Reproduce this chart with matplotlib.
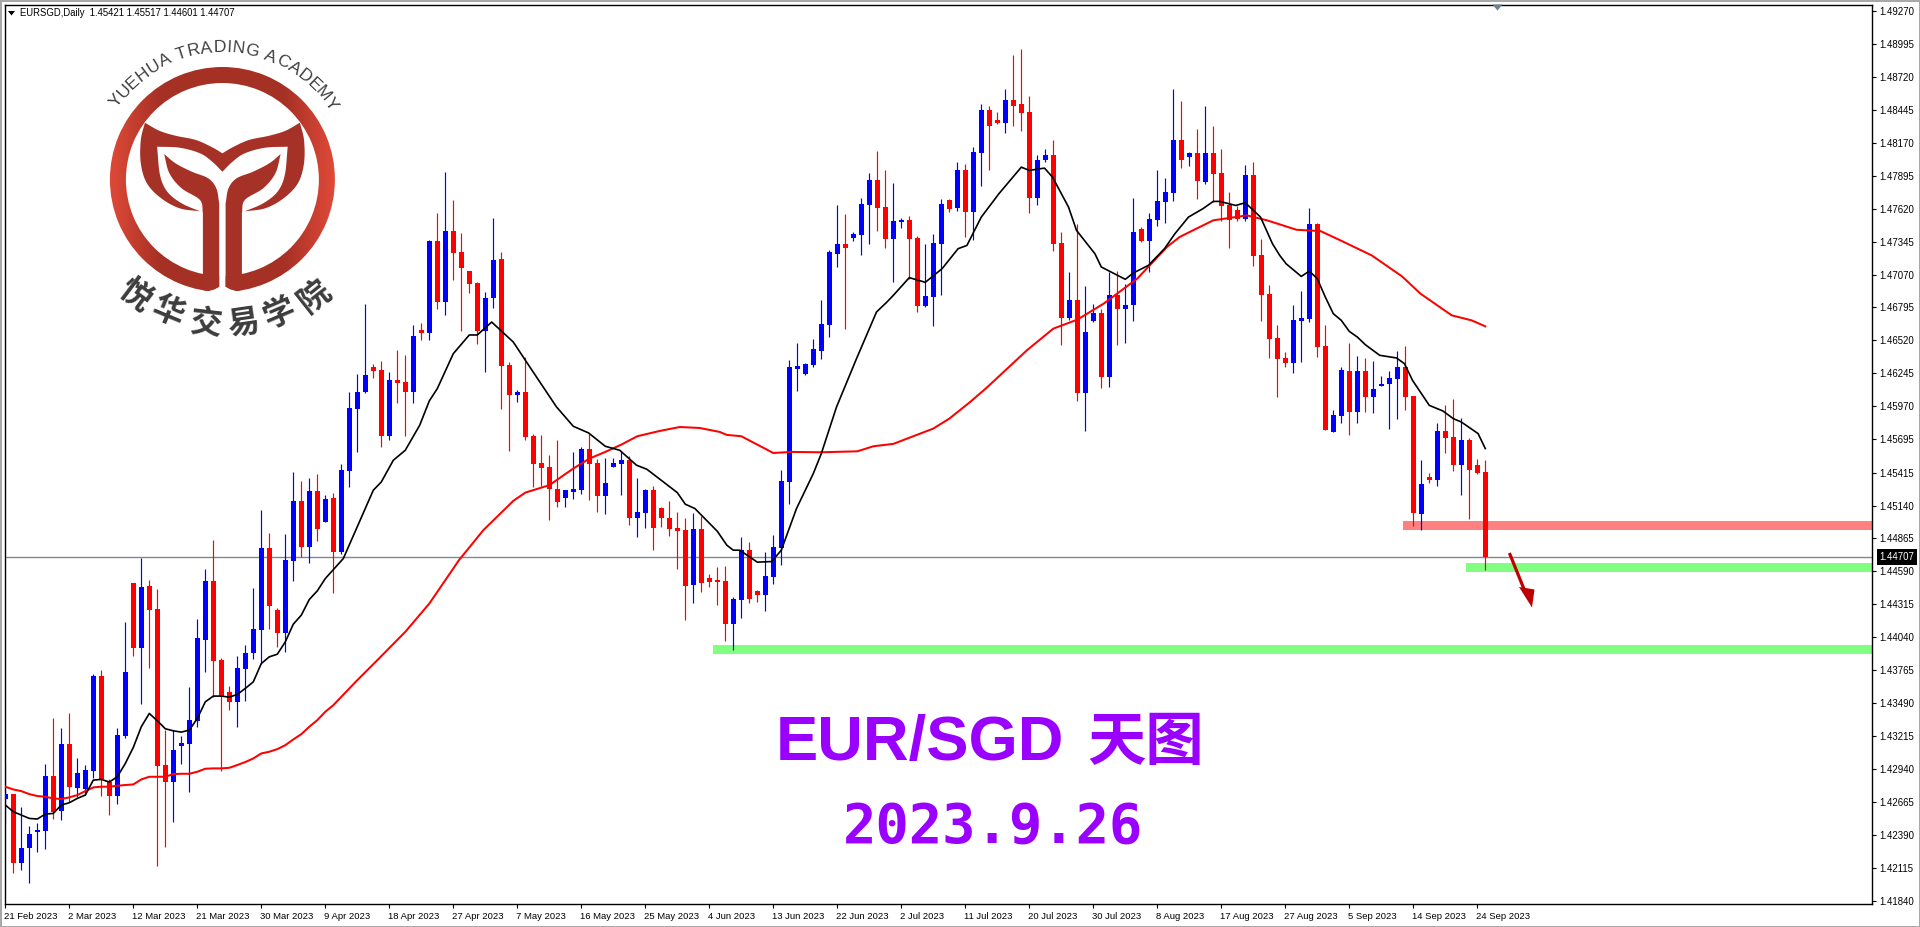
import numpy as np
import matplotlib
matplotlib.use("Agg")
import matplotlib.pyplot as plt
from matplotlib.patches import Polygon, Rectangle, Wedge
from matplotlib.transforms import ScaledTranslation

W, H = 1920, 927
UI = ['Liberation Sans', 'DejaVu Sans']
CJK = ['Noto Sans CJK SC', 'DejaVu Sans']

# ---- daily candles, in 1e-5 price units ----
opens = [
 142688,142729,142156,142281,142412,142423,142880,142590,143147,142782,
 142774,142924,143715,142830,142713,143214,144491,143951,144466,144274,
 142972,142830,143130,143147,143339,144015,144508,143848,143581,143498,
 143773,143907,144099,144783,144266,144074,144675,145176,144792,145259,
 145003,145201,144753,145429,145944,146086,146295,146270,145719,146186,
 146170,146086,146604,146579,147347,146837,147430,147255,147096,146996,
 146595,146871,147196,146311,146061,146086,145719,145493,145460,145276,
 145201,145251,145268,145610,145493,145218,145460,145485,145518,145034,
 145076,145268,145117,145034,144950,144934,144475,144942,144533,144516,
 144508,144149,144349,144767,144424,144391,144541,144783,145334,146278,
 146236,146311,146431,146646,147238,147322,147372,147397,147647,147856,
 147631,147364,147506,147522,147372,146804,146879,147322,147689,147622,
 147940,147589,148082,148441,148365,148332,148532,148491,148432,147706,
 148023,148065,147330,146704,146854,146081,146679,146746,146211,146896,
 146779,146813,147447,147347,147522,147673,147748,148190,148048,148082,
 147839,148082,147915,147647,147606,147531,147898,147230,146904,146537,
 146370,146328,146679,146695,147489,146470,145752,145886,146261,145919,
 146261,146044,146136,146153,146195,146295,146053,145067,145376,145351,
 145760,145710,145477,145685,145477,145421]
highs = [
 142985,142729,142618,142462,142490,142980,143369,143280,143403,143030,
 142969,143731,143765,142852,143280,144165,144491,144705,144516,144441,
 143264,143264,143214,143623,144190,144608,144850,143870,143631,143882,
 143973,144449,145101,144908,144282,144900,145418,145343,145368,145401,
 145226,145243,145485,146086,146242,146821,146320,146345,146253,146437,
 146395,146645,146662,147355,147581,147923,147689,147414,147096,147004,
 146921,147539,147255,146337,146103,146378,145735,145727,145560,145685,
 145268,145585,145627,145735,145527,145535,145535,145593,145552,145368,
 145276,145301,145126,145176,145084,145034,145076,145051,144566,144625,
 144633,144374,144875,144834,144433,144750,144892,145435,146353,146495,
 146328,146528,146854,147277,147647,147572,147422,147706,147915,148098,
 147940,147831,147539,147556,147389,147322,147405,147698,147700,148006,
 147990,148132,148491,148474,148424,148624,148900,148958,148558,148065,
 148115,148190,147422,147088,147494,146971,146821,146779,147088,147096,
 146993,147706,147464,147581,147940,147873,148624,148516,148090,148290,
 148474,148315,148115,147756,147639,147981,148006,147364,146980,146646,
 146420,146812,146929,147622,147500,146645,145936,146295,146495,146387,
 146370,146345,146220,146261,146428,146470,146053,145518,145410,145827,
 145977,146028,145869,145702,145527,145517]
lows = [
 142484,142073,142095,141989,142248,142273,142524,142512,142665,142707,
 142721,142860,142713,142557,142646,143197,143884,143481,143781,142128,
 142290,142496,142980,142746,143292,143748,143542,142924,143431,143292,
 143506,143857,143820,144107,143957,143915,144508,144708,144658,144842,
 145000,144410,144739,145296,145585,146078,146203,145630,145685,145994,
 145719,145994,146520,146520,146779,146729,147021,146595,146913,146487,
 146253,146787,145944,145593,146003,145685,145293,145301,145017,145126,
 145126,145193,145234,145184,145084,145067,145460,145226,144976,144875,
 144951,144767,144959,144884,144608,144182,144324,144416,144458,144308,
 144007,143932,144199,144324,144333,144257,144483,144642,145151,146094,
 146228,146295,146364,146548,147133,146612,147347,147230,147322,147430,
 147288,147005,147455,147035,146754,146796,146637,146896,147589,147600,
 147380,147355,147806,147940,148324,148249,148315,148265,147581,147647,
 148006,147263,146479,146687,146011,145761,146670,146120,146128,146479,
 146495,146679,147339,147088,147472,147497,147681,147956,147973,147698,
 147823,147673,147514,147288,147514,147514,147138,146679,146370,146044,
 146295,146245,146336,146671,146378,145769,145752,145827,145727,145827,
 145919,145911,146136,145777,145861,145936,144967,144934,145326,145301,
 145577,145426,145226,145026,145401,144601]
closes = [
 142729,142156,142276,142395,142429,142880,142582,143147,142791,142902,
 142930,143715,142852,142713,143222,143748,143951,144458,144266,142966,
 142830,143097,143155,143347,144032,144508,143840,143548,143498,143781,
 143907,144107,144783,144299,144074,144683,145176,144792,145259,144942,
 145193,144753,145435,145952,146086,146228,146261,145719,146186,146161,
 146086,146554,146579,147347,146837,147430,147247,147121,146988,146595,
 146871,147188,146303,146061,146086,145710,145485,145451,145276,145168,
 145268,145276,145610,145485,145218,145326,145493,145518,145034,145084,
 145268,144950,145034,144942,144925,144466,144942,144491,144500,144500,
 144149,144358,144767,144358,144391,144550,144792,145343,146295,146303,
 146320,146445,146654,147255,147322,147288,147405,147656,147856,147622,
 147364,147514,147522,147364,146804,146888,147330,147656,147614,147940,
 147589,148090,148441,148315,148332,148532,148482,148416,147706,148023,
 148065,147322,146704,146854,146081,146587,146746,146211,146896,146779,
 146813,147422,147347,147531,147681,147756,148190,148023,148082,147848,
 148082,147906,147639,147522,147531,147898,147222,146896,146529,146362,
 146328,146687,146704,147489,146462,145769,145894,146270,145919,146261,
 146044,146111,146153,146203,146295,146044,145076,145318,145351,145760,
 145702,145477,145685,145435,145410,144707]

# ---- moving averages: bar number and level ----
black_x = [0,1,2,3,4,5,6,7,8,9,10,11,12,13,14,15,16,17,18,19,20,21,22,23,24,25,26,27,28,29,30,
 31,32,33,34,35,36,37,38,39,40,42.25,46,47,48.5,50,51.8,53,54,56,58,59,60.8,63.5,65.7,68.9,71,
 72.9,75,76.8,78.9,80.2,84,85,86.2,89,90.2,91,91.8,94,95.8,97,98.9,101,102,103.9,106.4,108.9,
 110.2,111,113,115,117.1,119.1,120.2,122,124.2,127,128,129.9,130.9,132.9,133.9,136.2,137,140,
 141,142.9,144.9,146.2,147.9,149.7,151,151.8,153.8,155,156.9,158.4,159.3,160.1,162,163,164,165,
 166,167,168,169,170,171.8,173.9,174.9,175.9,178,179.7,181,182,184.1,185]
black_y = [142638,142582,142554,142526,142521,142562,142568,142638,142657,142693,142721,142846,
 142852,142830,142874,142985,143119,143292,143403,143342,143275,143258,143247,143264,143361,
 143500,143548,143548,143539,143562,143612,143667,143820,143876,143898,144001,144149,144224,
 144355,144427,144530,144697,145268,145337,145518,145602,145811,146014,146117,146409,146565,
 146565,146673,146506,146284,145964,145802,145747,145635,145602,145477,145443,145248,145151,
 145115,144925,144808,144767,144767,144667,144672,144767,145115,145407,145574,145963,146367,
 146757,146840,146896,147044,147005,147119,147286,147313,147550,147745,147967,147940,147959,
 147884,147634,147439,147244,147133,147030,147083,147147,147286,147411,147550,147620,147681,
 147681,147647,147670,147550,147327,147230,147160,147054,147099,147035,146882,146743,146687,
 146595,146548,146484,146395,146373,146325,146186,145977,145930,145866,145838,145741,145616]

red_x = [0,1,2,3,4,5,6,7,8,9,10,11,12,13,14,15,16,17,18,19,20,21,22,23,24,25,26,27,28,29,30,31,
 32,33,34,35,36,37,38,39,40,41,44,46.5,50,53,56,56.7,59.75,63.5,65,68,71,73,75,77,79,81.8,84.3,
 86.8,89.3,90.2,92,96,98.3,102,106.5,108.5,111,113.5,116,118,120.6,122.7,127.7,131,134,137.3,
 141.5,145.2,146.8,151,155.2,157.7,159.3,161.4,164.4,166.9,170.8,174.6,176.9,180.8,183.3,185]
red_y = [142791,142768,142754,142729,142713,142707,142693,142688,142702,142721,142754,142785,
 142791,142791,142799,142805,142810,142852,142874,142874,142874,142896,142899,142899,142916,
 142941,142944,142944,142949,142972,142997,143027,143069,143083,143105,143138,143186,143230,
 143292,143347,143417,143472,143681,143848,144085,144321,144614,144683,144934,145179,145248,
 145310,145449,145532,145588,145649,145719,145763,145796,145788,145755,145730,145719,145579,
 145588,145585,145593,145635,145655,145719,145783,145866,146005,146126,146437,146618,146693,
 146827,147036,147300,147384,147523,147564,147523,147489,147444,147433,147355,147230,147054,
 146910,146729,146687,146637]

# ---- support and resistance zones: first bar, lower and upper level ----
zone_start = [174.7, 182.6, 88.5]
zone_low = [144934, 144583, 143898]
zone_high = [145009, 144658, 143974]
zone_colors = ['#FF8080', '#80FF80', '#80FF80']

last_close = 144707

price_ticks = [149270,148995,148720,148445,148170,147895,147620,147345,147070,146795,146520,
 146245,145970,145695,145415,145140,144865,144590,144315,144040,143765,143490,143215,142940,
 142665,142390,142115,141840]
date_labels = ['21 Feb 2023','2 Mar 2023','12 Mar 2023','21 Mar 2023','30 Mar 2023','9 Apr 2023',
 '18 Apr 2023','27 Apr 2023','7 May 2023','16 May 2023','25 May 2023','4 Jun 2023','13 Jun 2023',
 '22 Jun 2023','2 Jul 2023','11 Jul 2023','20 Jul 2023','30 Jul 2023','8 Aug 2023','17 Aug 2023',
 '27 Aug 2023','5 Sep 2023','14 Sep 2023','24 Sep 2023']

UP, DOWN = '#0000FF', '#FF0000'
o, h, l, c = [np.array(a) / 1e5 for a in (opens, highs, lows, closes)]
idx = np.arange(len(o))
cols = [UP if ci >= oi else DOWN for oi, ci in zip(o, c)]

fig = plt.figure(figsize=(W / 100, H / 100), dpi=100, facecolor='white')
L, R, T, B = 4.5, 1872, 4.5, 904
ax = fig.add_axes([L / W, 1 - B / H, (R - L) / W, (B - T) / H])
ax.set_xlim((L - 5.3) / 8, (R - 5.3) / 8)
ax.set_ylim(1.41811, 1.49326)
for s in ax.spines.values():
    s.set_color('black')
    s.set_linewidth(1.0)

for x0, z0, z1, zc in zip(zone_start, zone_low, zone_high, zone_colors):
    ax.add_patch(Rectangle((x0, z0 / 1e5), ax.get_xlim()[1] - x0, (z1 - z0) / 1e5,
                           facecolor=zc, edgecolor='none', zorder=1))
ax.axhline(last_close / 1e5, color='#808890', lw=1.0, zorder=1.5)
ax.vlines(idx, l, h, colors=cols, lw=0.85, zorder=2)
ax.bar(idx, np.abs(c - o), bottom=np.minimum(o, c), width=0.625, color=cols, linewidth=0, zorder=3)
ax.plot(red_x, np.array(red_y) / 1e5, color='#FF0000', lw=1.45, zorder=4, solid_joinstyle='round')
ax.plot(black_x, np.array(black_y) / 1e5, color='#000000', lw=1.2, zorder=5, solid_joinstyle='round')

ax.yaxis.tick_right()
ax.set_yticks(np.array(price_ticks) / 1e5)
ax.set_yticklabels(['%.5f' % (p / 1e5) for p in price_ticks], fontsize=6.9, family=UI, color='black')
ax.tick_params(axis='y', length=3, width=0.8, pad=2, color='black')
ax.set_xticks(idx[::8])
ax.set_xticklabels(date_labels, fontsize=6.8, family=UI, color='black', ha='left')
ax.tick_params(axis='x', length=3, width=0.8, pad=2.5, color='black')
shift = ScaledTranslation(-1.5 / 100, 0, fig.dpi_scale_trans)
for t in ax.get_xticklabels():
    t.set_transform(t.get_transform() + shift)

ax.annotate('%.5f' % (last_close / 1e5), xy=(1, last_close / 1e5),
            xycoords=('axes fraction', 'data'), xytext=(5.4, 0), textcoords='offset points',
            ha='left', va='center', fontsize=6.9, family=UI, color='white',
            bbox=dict(boxstyle='square,pad=0.3', facecolor='black', edgecolor='black', lw=0),
            annotation_clip=False, zorder=6)

# ---- overlay in image pixels for frame, logo and captions ----
ov = fig.add_axes([0, 0, 1, 1], facecolor='none', zorder=10)
ov.set_xlim(0, W)
ov.set_ylim(H, 0)
ov.axis('off')

for rect in [(0, 0, W, 2.2), (0, 0, 2, H), (0, 925.5, W, 2), (W - 1.2, 0, 1.2, H)]:
    ov.add_patch(Rectangle(rect[:2], rect[2], rect[3], facecolor='#A8A8A8', edgecolor='none'))

ov.add_patch(Polygon([(8, 11), (15, 11), (11.5, 15.5)], closed=True, facecolor='black', edgecolor='none'))
ov.add_patch(Polygon([(1492.5, 4.5), (1502.5, 4.5), (1497.5, 10.5)], closed=True, facecolor='#6E7F90', edgecolor='none'))
ov.text(20.3, 12.6, 'EURSGD,Daily  1.45421 1.45517 1.44601 1.44707', fontsize=6.85, family=UI,
        color='black', ha='left', va='center')


def curve(pts, n=8):
    """Catmull-Rom path through outline points of the logo."""
    p = np.array(pts, float)
    p = np.vstack([2 * p[0] - p[1], p, 2 * p[-1] - p[-2]])
    out = []
    for i in range(1, len(p) - 2):
        for s in np.linspace(0, 1, n, endpoint=False):
            out.append(0.5 * (2 * p[i] + (p[i + 1] - p[i - 1]) * s
                              + (2 * p[i - 1] - 5 * p[i] + 4 * p[i + 1] - p[i + 2]) * s ** 2
                              + (3 * p[i] - p[i - 1] - 3 * p[i + 1] + p[i + 2]) * s ** 3))
    out.append(p[-2])
    return [tuple(q) for q in out]


# logo
cx, cy = 222.4, 179.5
ring = Wedge((cx, cy), 112.5, 0, 360, width=16, facecolor='none', edgecolor='none')
ov.add_patch(ring)
u = np.linspace(-1, 1, 300)
tt = np.clip((np.abs(u) - 0.55) / 0.45, 0, 1)[None, :, None]
rgb = (1 - tt) * np.array([0.65, 0.19, 0.145]) + tt * np.array([0.88, 0.29, 0.22])
im = ov.imshow(rgb, extent=(cx - 113, cx + 113, cy + 113, cy - 113), aspect='auto', zorder=1)
im.set_clip_path(ring)
ov.set_xlim(0, W)
ov.set_ylim(H, 0)

mirror = lambda pts: [(2 * cx - x, y) for x, y in pts]
DARK = '#A63126'
y_half = (curve([(222.4, 153.3), (212.2, 147.3), (195.9, 140), (175.5, 135.7), (159.2, 130.7), (144.9, 122.7)])
          + curve([(144.9, 122.7), (140.8, 140), (140.8, 163.3), (146.9, 183.3), (161.2, 198.3), (179.6, 208.3), (200, 211.3)])
          + curve([(200, 211.3), (181.6, 203.3), (167.3, 191.7), (160, 175), (157.1, 146.7)])
          + curve([(157.1, 146.7), (179.6, 147.7), (200, 153.3), (212.2, 161.7), (222.4, 171.7)]))
ov.add_patch(Polygon(y_half + mirror(y_half)[::-1], closed=True, facecolor=DARK, edgecolor='none', zorder=2))
ov.add_patch(Polygon([(219.2, 268), (225.6, 268), (225.6, 286.7), (230.5, 289.3), (236.6, 291), (236.6, 296),
                      (208.2, 296), (208.2, 291), (214.3, 289.3), (219.2, 286.7)],
                     closed=True, facecolor='white', edgecolor='none', zorder=2))
stem = (curve([(164.1, 154), (175.5, 163.3), (191.8, 171.7), (208.2, 178.3), (216.3, 188.3), (219.2, 203.3)])
        + [(219.2, 286.7), (214.3, 289.3), (208.2, 291), (202.9, 290)]
        + curve([(202.9, 213.3), (200, 200), (181.6, 188.3), (169.4, 173.3), (164.1, 154)]))
ov.add_patch(Polygon(stem, closed=True, facecolor=DARK, edgecolor='none', zorder=3))
ov.add_patch(Polygon(mirror(stem), closed=True, facecolor=DARK, edgecolor='none', zorder=3))

arc_text = 'YUEHUA TRADING ACADEMY'
widths = {' ': 0.42, 'I': 0.40, 'M': 1.0, 'G': 0.95, 'D': 0.92, 'A': 0.88, 'U': 0.90, 'H': 0.90, 'N': 0.90,
          'T': 0.78, 'E': 0.80, 'R': 0.90, 'C': 0.92, 'Y': 0.82}
w = np.array([widths[ch] for ch in arc_text])
edges = np.concatenate([[0], np.cumsum(w)])
mids = (edges[:-1] + edges[1:]) / 2 / edges[-1]
for ch, m in zip(arc_text, mids):
    a = np.radians(-56 + 114 * m)
    ov.text(cx + 127.5 * np.sin(a), cy - 127.5 * np.cos(a), ch, rotation=-np.degrees(a), rotation_mode='anchor',
            ha='center', va='baseline', fontsize=12.6, family=UI, color='#404040', zorder=4)

cn_chars = '悦华交易学院'
cn_pos = [(137, 293), (169, 308), (206, 320), (243, 320), (278, 310), (312, 293)]
for ch, (x, y) in zip(cn_chars, cn_pos):
    rot = np.degrees(np.arctan2(x - cx, y - cy))
    a = np.radians(rot)
    ov.text(x + 4 * np.sin(a), y + 4 * np.cos(a), ch, rotation=rot, rotation_mode='anchor', ha='center', va='center',
            fontsize=23, fontweight='bold', family=CJK, color='#3C3C3C', zorder=4)

# arrow
ov.plot([1509.4, 1526], [553, 594], color='#C00000', lw=2.3, solid_capstyle='butt', zorder=6)
ov.add_patch(Polygon([(1519, 587), (1532, 607.5), (1534.5, 589.5), (1525.5, 588)], closed=True,
                     facecolor='#C00000', edgecolor='none', zorder=6))

# captions
PURPLE = '#9900FF'
ov.text(775.5, 760, 'EUR/SGD', fontsize=45.5, fontweight='bold', family=UI, color=PURPLE, ha='left', va='baseline')
ov.text(1146, 743, '天图', fontsize=42, fontweight='bold', family=CJK, color=PURPLE, ha='center', va='center')
ov.text(993.5, 843, '2023.9.26', fontsize=40, fontweight='bold', family=['DejaVu Sans Mono', 'DejaVu Sans'],
        color=PURPLE, ha='center', va='baseline')

fig.savefig('out.png', dpi=100, facecolor='white')
